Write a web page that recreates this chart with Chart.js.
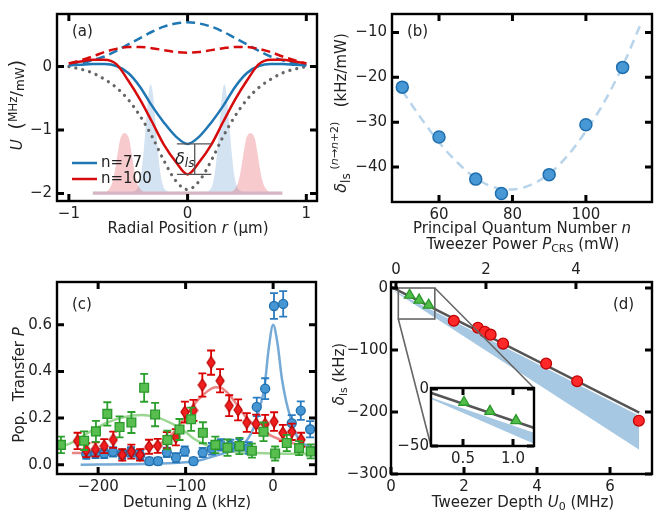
<!DOCTYPE html>
<html>
<head>
<meta charset="utf-8">
<script src="https://cdn.jsdelivr.net/npm/chart.js@4.4.1/dist/chart.umd.min.js"></script>
<style>
  html, body { margin: 0; padding: 0; background: #fff; }
  #wrap { position: relative; width: 660px; height: 512px; }
  #wrap canvas { position: absolute; left: 0; top: 0; }
</style>
</head>
<body>
<div id="wrap">
  <canvas id="pa" width="660" height="512"></canvas>
  <canvas id="pb" width="660" height="512"></canvas>
  <canvas id="pc" width="660" height="512"></canvas>
  <canvas id="pd" width="660" height="512"></canvas>
  <canvas id="pe" width="660" height="512"></canvas>
</div>
<script>
// ---- (a) trap potentials
const radius = [-1, -0.9, -0.8, -0.7, -0.6, -0.5, -0.4, -0.3, -0.2, -0.1, 0, 0.1, 0.2, 0.3, 0.4, 0.5, 0.6, 0.7, 0.8, 0.9, 1]
const trap77 = [0.02, 0.03, 0.04, 0.04, 0.01, -0.1, -0.32, -0.62, -0.88, -1.1, -1.22, -1.1, -0.88, -0.62, -0.32, -0.1, 0.01, 0.04, 0.04, 0.03, 0.02]
const trap100 = [0.05, 0.08, 0.11, 0.11, 0.04, -0.22, -0.52, -0.87, -1.23, -1.5, -1.7, -1.5, -1.23, -0.87, -0.52, -0.22, 0.04, 0.11, 0.11, 0.08, 0.05]
const upper77 = [0.02, 0.05, 0.1, 0.16, 0.25, 0.35, 0.45, 0.55, 0.63, 0.68, 0.7, 0.68, 0.63, 0.55, 0.45, 0.35, 0.25, 0.16, 0.1, 0.05, 0.02]
const upper100 = [0.05, 0.1, 0.16, 0.23, 0.28, 0.31, 0.31, 0.29, 0.26, 0.23, 0.22, 0.23, 0.26, 0.29, 0.31, 0.31, 0.28, 0.23, 0.16, 0.1, 0.05]
const groundTrap = [0, -0.04, -0.1, -0.2, -0.33, -0.52, -0.78, -1.1, -1.48, -1.8, -1.94, -1.8, -1.48, -1.1, -0.78, -0.52, -0.33, -0.2, -0.1, -0.04, 0]
const waveR77 = [-0.8, -0.46, -0.43, -0.41, -0.39, -0.37, -0.35, -0.33, -0.31, -0.29, -0.27, -0.25, -0.23, -0.21, -0.19, -0.16,
  0.16, 0.19, 0.21, 0.23, 0.25, 0.27, 0.29, 0.31, 0.33, 0.35, 0.37, 0.39, 0.41, 0.43, 0.46, 0.8]
const waveU77 = [-1.97, -1.97, -1.94, -1.86, -1.67, -1.33, -0.88, -0.46, -0.28, -0.46, -0.88, -1.33, -1.67, -1.86, -1.94, -1.97,
  -1.97, -1.94, -1.86, -1.67, -1.33, -0.88, -0.46, -0.28, -0.46, -0.88, -1.33, -1.67, -1.86, -1.94, -1.97, -1.97]
const waveR100 = [-0.8, -0.69, -0.67, -0.65, -0.63, -0.61, -0.59, -0.57, -0.55, -0.53, -0.51, -0.49, -0.47, -0.45, -0.43, -0.41, -0.39, -0.37,
  0.37, 0.39, 0.41, 0.43, 0.45, 0.47, 0.49, 0.51, 0.53, 0.55, 0.57, 0.59, 0.61, 0.63, 0.65, 0.67, 0.69, 0.8]
const waveU100 = [-1.97, -1.97, -1.95, -1.9, -1.8, -1.62, -1.38, -1.16, -1.07, -1.05, -1.07, -1.16, -1.38, -1.62, -1.8, -1.9, -1.95, -1.97,
  -1.97, -1.95, -1.9, -1.8, -1.62, -1.38, -1.16, -1.07, -1.05, -1.07, -1.16, -1.38, -1.62, -1.8, -1.9, -1.95, -1.97, -1.97]
const seriesNames = ['n=77', 'n=100']
const aTicksX = [-1, 0, 1]
const aTicksY = [0, -1, -2]

// ---- (b) shift per power vs n
const nLevels = [50, 60, 70, 77, 90, 100, 110]
const shiftPerPower = [-22.2, -33.3, -42.7, -45.9, -41.7, -30.6, -17.8]
const nFit = [50, 55, 60, 65, 70, 75, 80, 85, 90, 95, 100, 105, 110, 115]
const shiftFit = [-23, -29, -34.5, -39, -42.5, -44.5, -45, -44, -41.5, -37.5, -32, -25.5, -17.5, -8]
const bTicksX = [60, 80, 100]
const bTicksY = [-10, -20, -30, -40]

// ---- (c) spectra
const detBlue = [-213.5, -203, -193, -183, -172.5, -162.5, -152, -141.5, -131.5, -121.5, -111, -101, -91, -80.5, -70, -59.5, -49, -38.5, -28, -18.7, -9.1, 1, 11.5, 21.3, 31.6, 42.3]
const popBlue = [0.045, 0.048, 0.048, 0.055, 0.045, 0.055, 0.04, 0.015, 0.015, 0.053, 0.03, 0.058, 0.015, 0.052, 0.068, 0.085, 0.082, 0.085, 0.072, 0.248, 0.326, 0.681, 0.69, 0.178, 0.232, 0.152]
const errBlue = [0.02, 0.02, 0.02, 0.02, 0.02, 0.02, 0.02, 0.015, 0.015, 0.02, 0.02, 0.02, 0.015, 0.02, 0.025, 0.025, 0.025, 0.025, 0.025, 0.04, 0.045, 0.055, 0.055, 0.035, 0.04, 0.035]
const detRed = [-223.5, -213.5, -203, -193, -182.7, -172.4, -162, -152, -141.8, -131.9, -121.5, -111.2, -100.8, -91, -80.9, -70.9, -60.6, -50.2, -40, -30.1, -19.4, -9.1, 1.1, 11.1, 21.3, 32]
const popRed = [0.102, 0.062, 0.066, 0.08, 0.107, 0.042, 0.056, 0.042, 0.077, 0.081, 0.105, 0.118, 0.226, 0.233, 0.342, 0.438, 0.36, 0.253, 0.235, 0.181, 0.175, 0.174, 0.185, 0.136, 0.141, 0.107]
const errRed = [0.035, 0.03, 0.03, 0.03, 0.035, 0.025, 0.03, 0.025, 0.03, 0.03, 0.035, 0.035, 0.045, 0.045, 0.05, 0.052, 0.05, 0.045, 0.045, 0.04, 0.04, 0.04, 0.04, 0.035, 0.035, 0.03]
const detGreen = [-242.5, -216, -202.5, -189.5, -175.5, -162, -147.4, -134.9, -120.8, -107, -93.7, -80.3, -66, -52.2, -38.5, -24.3, -11, 2.3, 15.6, 29.7, 43]
const popGreen = [0.085, 0.103, 0.143, 0.218, 0.162, 0.181, 0.33, 0.215, 0.106, 0.151, 0.195, 0.137, 0.085, 0.073, 0.08, 0.06, 0.141, 0.048, 0.093, 0.071, 0.057]
const errGreen = [0.035, 0.04, 0.045, 0.05, 0.045, 0.045, 0.06, 0.05, 0.04, 0.045, 0.05, 0.045, 0.035, 0.035, 0.035, 0.03, 0.04, 0.03, 0.035, 0.03, 0.03]
const fitDetBlue = [-220, -160, -120, -100, -90, -80, -70, -60, -50, -40, -30, -20, -15, -10, -5, 0, 5, 10, 15, 20, 25, 30, 40, 50]
const fitPopBlue = [0, 0.002, 0.006, 0.01, 0.014, 0.022, 0.034, 0.045, 0.057, 0.075, 0.105, 0.18, 0.25, 0.33, 0.5, 0.6, 0.52, 0.37, 0.27, 0.2, 0.14, 0.105, 0.08, 0.07]
const fitDetRed = [-230, -200, -180, -160, -140, -125, -110, -100, -90, -80, -70, -65, -60, -50, -40, -30, -20, -10, 0, 10, 20, 30, 40, 50]
const fitPopRed = [0.05, 0.052, 0.055, 0.06, 0.075, 0.1, 0.155, 0.21, 0.26, 0.3, 0.328, 0.332, 0.33, 0.3, 0.25, 0.2, 0.165, 0.14, 0.12, 0.105, 0.095, 0.085, 0.078, 0.075]
const fitDetGreen = [-250, -230, -210, -190, -170, -150, -130, -110, -100, -90, -80, -70, -60, -50, -30, 0, 50]
const fitPopGreen = [0.068, 0.095, 0.14, 0.18, 0.205, 0.213, 0.2, 0.165, 0.14, 0.11, 0.09, 0.075, 0.065, 0.058, 0.052, 0.048, 0.046]
const cTicksX = [-200, -100, 0]
const cTicksY = [0, 0.2, 0.4, 0.6]

// ---- (d) light shift vs depth
const depthGreen = [0.51, 0.77, 1.03]
const shiftGreen = [-11.6, -19.6, -27.7]
const depthRed = [1.72, 2.38, 2.57, 2.73, 3.07, 4.25, 5.1, 6.79]
const shiftRed = [-52.8, -64, -70.5, -75.2, -89.7, -121.9, -150.3, -214]
const fitDepth = [0, 6.8]
const fitShift = [2, -201]
const bandDepth = [0, 6.8]
const bandUpper = [-2, -206]
const bandLower = [-2, -261]
const dTicksX = [0, 2, 4, 6]
const dTicksY = [0, -100, -200, -300]
const dTicksTop = [0, 2, 4]
const insetTicksX = [0.5, 1.0]
const insetTicksY = [0, -50]

// ---- look
const FONT = '"DejaVu Sans", sans-serif'
const INK = '#222'
const BLUE = '#1f77b4', RED = 'rgb(214,12,12)'

// plot areas [left, top, right, bottom]
const AREA_A = [57, 9, 317, 201]
const AREA_B = [392, 9, 652, 202]
const AREA_C = [57, 282, 316, 474]
const AREA_D = [391, 282, 652, 474]
const AREA_E = [431, 388, 534, 446]
const INSET_BOX = { x0: 0.2, x1: 1.2, y0: -50, y1: 0 }
const Y_W = 50, X_H = 26

function pts(xs, ys) { return xs.map((x, i) => ({ x, y: ys[i] })) }

function richText(ctx, runs, x, y, rot, align) {
  ctx.save()
  ctx.translate(x, y)
  if (rot) ctx.rotate(-Math.PI / 2)
  ctx.fillStyle = INK
  ctx.textBaseline = 'middle'
  ctx.textAlign = 'left'
  const font = r => (r.i ? 'italic ' : '') + (r.s || 15) + 'px ' + FONT
  let cur = 0
  const at = runs.map(r => { ctx.font = font(r); const p = cur; cur += ctx.measureText(r.t).width; return p })
  const off = align === 'left' ? 0 : -cur / 2
  runs.forEach((r, k) => { ctx.font = font(r); ctx.fillText(r.t, at[k] + off, r.dy || 0) })
  ctx.restore()
}

const minus = v => String(v).replace('-', '\u2212')
const oneDec = v => v.toFixed(1).replace('-', '\u2212')

function axis(pos, min, max, vals, fmt, pad, size) {
  const horiz = pos === 'top' || pos === 'bottom'
  return {
    type: 'linear', position: pos, min, max,
    grid: { display: false, drawTicks: false },
    border: { display: false },
    ticks: { padding: pad, color: INK, font: { size: 15, family: FONT }, maxRotation: 0, autoSkip: false, callback: fmt },
    afterBuildTicks: s => { s.ticks = vals.map(v => ({ value: v })) },
    afterFit: s => { if (horiz) s.height = size; else s.width = size }
  }
}

function line(xs, ys, color, width, dash, extra) {
  return Object.assign({
    data: pts(xs, ys), showLine: true, borderColor: color, borderWidth: width, borderDash: dash || [],
    pointRadius: 0, fill: false, cubicInterpolationMode: 'monotone', clip: 0
  }, extra || {})
}

function marks(xs, ys, style, r, fill, edge, extra) {
  return Object.assign({
    data: pts(xs, ys), showLine: false, pointStyle: style, pointRadius: r,
    backgroundColor: fill, borderColor: edge, borderWidth: 1.3, clip: 0
  }, extra || {})
}

function thinDiamond(w, h, fill, edge) {
  const c = document.createElement('canvas')
  c.width = w + 2; c.height = h + 2
  const g = c.getContext('2d')
  g.beginPath()
  g.moveTo(c.width / 2, 1); g.lineTo(c.width - 1, c.height / 2)
  g.lineTo(c.width / 2, c.height - 1); g.lineTo(1, c.height / 2)
  g.closePath()
  g.fillStyle = fill; g.fill()
  g.strokeStyle = edge; g.lineWidth = 1.2; g.stroke()
  return c
}

// frame + inward ticks on all four sides
const frameTicks = {
  id: 'frameTicks',
  beforeDraw(chart, args, o) {
    if (!o.white) return
    const { ctx, chartArea: a } = chart
    ctx.save(); ctx.fillStyle = '#fff'
    ctx.fillRect(a.left, a.top, a.right - a.left, a.bottom - a.top)
    ctx.restore()
  },
  afterDraw(chart, args, o) {
    const { ctx, chartArea: a, scales } = chart
    const L = 7
    ctx.save()
    ctx.strokeStyle = '#000'
    ctx.lineWidth = 3
    ctx.beginPath()
    scales[o.bottom].ticks.forEach(t => { const p = scales[o.bottom].getPixelForValue(t.value); ctx.moveTo(p, a.bottom); ctx.lineTo(p, a.bottom - L) })
    scales[o.top].ticks.forEach(t => { const p = scales[o.top].getPixelForValue(t.value); ctx.moveTo(p, a.top); ctx.lineTo(p, a.top + L) })
    scales[o.left].ticks.forEach(t => {
      const p = scales[o.left].getPixelForValue(t.value)
      ctx.moveTo(a.left, p); ctx.lineTo(a.left + L, p)
      ctx.moveTo(a.right, p); ctx.lineTo(a.right - L, p)
    })
    ctx.stroke()
    ctx.lineWidth = 2.4
    ctx.strokeRect(a.left, a.top, a.right - a.left, a.bottom - a.top)
    ctx.restore()
  }
}

// axis titles and panel letters
const notes = {
  id: 'notes',
  afterDraw(chart, args, o) {
    (o.items || []).forEach(n => richText(chart.ctx, n.runs, n.x, n.y, n.rot, n.align))
  }
}

// error bars, drawn just under each marker set
const errorBars = {
  id: 'errorBars',
  beforeDatasetDraw(chart, args) {
    const ds = chart.data.datasets[args.index]
    if (!ds.errors) return
    const { ctx, chartArea: a, scales: { x, y } } = chart
    ctx.save()
    ctx.beginPath(); ctx.rect(a.left, a.top, a.right - a.left, a.bottom - a.top); ctx.clip()
    ctx.strokeStyle = ds.errColor
    ctx.lineWidth = 1.8
    ds.data.forEach((p, i) => {
      const px = x.getPixelForValue(p.x)
      const lo = y.getPixelForValue(p.y - ds.errors[i]), hi = y.getPixelForValue(p.y + ds.errors[i])
      ctx.beginPath()
      ctx.moveTo(px, lo); ctx.lineTo(px, hi)
      ctx.moveTo(px - 4, lo); ctx.lineTo(px + 4, lo)
      ctx.moveTo(px - 4, hi); ctx.lineTo(px + 4, hi)
      ctx.stroke()
    })
    ctx.restore()
  }
}

// sizes: room kept for the tick labels around the plot area
function panel(id, area, datasets, scales, opts, plugins, sizes) {
  const sz = Object.assign({ left: Y_W, bottom: X_H, top: 0 }, sizes || {})
  return new Chart(document.getElementById(id), {
    type: 'scatter',
    data: { datasets },
    options: {
      responsive: false, animation: false, events: [], devicePixelRatio: 1,
      layout: { padding: { left: area[0] - sz.left, top: area[1] - sz.top, right: 660 - area[2], bottom: 512 - area[3] - sz.bottom } },
      scales,
      plugins: Object.assign({ legend: { display: false }, tooltip: { enabled: false } }, opts)
    },
    plugins: [frameTicks, notes].concat(plugins || [])
  })
}

// ---------------- (a)
const keyA = {
  id: 'keyA',
  afterDatasetsDraw(chart) {
    const { ctx, chartArea: a, scales: { x, y } } = chart
    // legend
    ;[[seriesNames[0], BLUE], [seriesNames[1], RED]].forEach(([label, color], k) => {
      const yy = a.bottom - 38 + k * 16
      ctx.save(); ctx.strokeStyle = color; ctx.lineWidth = 2.5
      ctx.beginPath(); ctx.moveTo(a.left + 15, yy); ctx.lineTo(a.left + 40, yy); ctx.stroke(); ctx.restore()
      richText(ctx, [{ t: label }], a.left + 44, yy, false, 'left')
    })
    // delta_ls bracket between the two trap minima
    const yb = y.getPixelForValue(Math.min(...trap77)), yr = y.getPixelForValue(Math.min(...trap100))
    const x1 = x.getPixelForValue(-0.09), x2 = x.getPixelForValue(0.2), xm = x.getPixelForValue(0.06)
    ctx.save(); ctx.strokeStyle = '#555'; ctx.lineWidth = 1.3
    ctx.beginPath()
    ctx.moveTo(x1, yb); ctx.lineTo(x2, yb)
    ctx.moveTo(x1, yr); ctx.lineTo(x2, yr)
    ctx.moveTo(xm, yb); ctx.lineTo(xm, yr)
    ctx.stroke(); ctx.restore()
    richText(ctx, [{ t: '\u03b4', i: 1, s: 16 }, { t: 'ls', i: 1, s: 12, dy: 4 }], xm - 10, (yb + yr) / 2 + 1, false)
  }
}

panel('pa', AREA_A, [
  line(radius, trap100, RED, 2.5),
  line(radius, trap77, BLUE, 2.5),
  line(radius, upper100, RED, 2.5, [9, 5]),
  line(radius, upper77, BLUE, 2.5, [9, 5]),
  line(radius, groundTrap, '#666', 3.2, [0.1, 7], { borderCapStyle: 'round' }),
  line(waveR100, waveU100, 'rgba(0,0,0,0)', 0, null, { fill: { value: -2.02 }, backgroundColor: 'rgba(225,60,70,0.27)' }),
  line(waveR77, waveU77, 'rgba(0,0,0,0)', 0, null, { fill: { value: -2.02 }, backgroundColor: 'rgba(70,140,200,0.24)' })
], {
  x: axis('bottom', -1.1, 1.09, aTicksX, minus, 4, X_H),
  y: axis('left', -2.12, 0.83, aTicksY, minus, 5, Y_W)
}, {
  frameTicks: { bottom: 'x', top: 'x', left: 'y' },
  notes: { items: [
    { runs: [{ t: '(a)' }], x: 72, y: 32, align: 'left' },
    { runs: [{ t: 'Radial Position ' }, { t: 'r', i: 1 }, { t: ' (\u03bcm)' }], x: 188, y: 229 },
    { runs: [{ t: 'U', i: 1 }, { t: '  ' }, { t: '(', s: 20 }, { t: 'MHz', s: 12, dy: -4 }, { t: '/', s: 16 }, { t: 'mW', s: 12, dy: 3 }, { t: ')', s: 20 }], x: 18, y: 105, rot: true }
  ] }
}, [keyA])

// ---------------- (b)
panel('pb', AREA_B, [
  marks(nLevels, shiftPerPower, 'circle', 6, 'rgb(72,152,214)', '#1f6fae', { borderWidth: 1.5 }),
  line(nFit, shiftFit, 'rgba(160,198,228,0.75)', 2.5, [9, 6])
], {
  x: axis('bottom', 47.2, 118, bTicksX, minus, 4, X_H),
  y: axis('left', -47.8, -5.9, bTicksY, minus, 5, Y_W)
}, {
  frameTicks: { bottom: 'x', top: 'x', left: 'y' },
  notes: { items: [
    { runs: [{ t: '(b)' }], x: 407, y: 32, align: 'left' },
    { runs: [{ t: 'Principal Quantum Number ' }, { t: 'n', i: 1 }], x: 522, y: 229 },
    { runs: [{ t: '\u03b4', i: 1, s: 16 }, { t: 'ls ', s: 12, dy: 5 }, { t: '(', s: 11, dy: -7 }, { t: 'n', s: 11, i: 1, dy: -7 }, { t: '\u2192', s: 11, dy: -7 },
      { t: 'n', s: 11, i: 1, dy: -7 }, { t: '+2)', s: 11, dy: -7 }, { t: '   (kHz/mW)' }], x: 342, y: 113, rot: true }
  ] }
})

// ---------------- (c)
panel('pc', AREA_C, [
  marks(detGreen, popGreen, 'rect', 6.2, 'rgb(88,190,80)', '#2c9a2c', { errors: errGreen, errColor: '#2ca02c' }),
  marks(detRed, popRed, thinDiamond(8, 12, 'rgb(240,30,30)', '#b80000'), 6, 'rgb(240,30,30)', '#b80000', { errors: errRed, errColor: '#d80000' }),
  marks(detBlue, popBlue, 'circle', 4.5, 'rgb(70,150,212)', '#1f6fae', { errors: errBlue, errColor: '#2a7bbf' }),
  line(fitDetBlue, fitPopBlue, 'rgba(110,165,212,0.95)', 2.5),
  line(fitDetRed, fitPopRed, 'rgba(232,120,120,0.9)', 2.5),
  line(fitDetGreen, fitPopGreen, 'rgba(150,212,140,0.95)', 2.5)
], {
  x: axis('bottom', -247, 49, cTicksX, minus, 4, X_H),
  y: axis('left', -0.04, 0.784, cTicksY, oneDec, 5, Y_W)
}, {
  frameTicks: { bottom: 'x', top: 'x', left: 'y' },
  notes: { items: [
    { runs: [{ t: '(c)' }], x: 72, y: 305, align: 'left' },
    { runs: [{ t: 'Detuning \u0394 (kHz)' }], x: 187, y: 503 },
    { runs: [{ t: 'Pop.  Transfer ' }, { t: 'P', i: 1 }], x: 20, y: 385, rot: true }
  ] }
}, [errorBars])

// ---------------- (d) inset first, so the main panel can point at it
const GREEN_TRI = ['rgb(80,190,72)', '#2c962c']
const RED_DOT = ['rgb(255,40,40)', '#c00000']
const bandSets = () => [
  line(bandDepth, bandUpper, 'rgba(0,0,0,0)', 0, null, { fill: '+1', backgroundColor: 'rgb(166,200,226)', cubicInterpolationMode: 'default', tension: 0 }),
  line(bandDepth, bandLower, 'rgba(0,0,0,0)', 0, null, { cubicInterpolationMode: 'default', tension: 0 })
]

const inset = panel('pe', AREA_E, [
  marks(depthGreen, shiftGreen, 'triangle', 6, GREEN_TRI[0], GREEN_TRI[1]),
  line(fitDepth, fitShift, '#555', 2.5, null, { cubicInterpolationMode: 'default', tension: 0 })
].concat(bandSets()), {
  x: axis('bottom', 0.18, 1.21, insetTicksX, oneDec, 4, 22),
  y: axis('left', -50, 0.9, insetTicksY, minus, 2, 40)
}, {
  frameTicks: { bottom: 'x', top: 'x', left: 'y', white: true }
}, [], { left: 40, bottom: 22 })

const zoomBox = {
  id: 'zoomBox',
  afterDatasetsDraw(chart) {
    const { ctx, scales: { x, y } } = chart
    const ia = inset.chartArea
    const l = x.getPixelForValue(INSET_BOX.x0), r = x.getPixelForValue(INSET_BOX.x1)
    const t = y.getPixelForValue(INSET_BOX.y1), b = y.getPixelForValue(INSET_BOX.y0)
    ctx.save(); ctx.strokeStyle = '#666'; ctx.lineWidth = 1.6
    ctx.strokeRect(l, t, r - l, b - t)
    ctx.beginPath()
    ctx.moveTo(r, t); ctx.lineTo(ia.right, ia.top)
    ctx.moveTo(l, b); ctx.lineTo(ia.left, ia.bottom)
    ctx.stroke(); ctx.restore()
  }
}

panel('pd', AREA_D, [
  marks(depthRed, shiftRed, 'circle', 5.4, RED_DOT[0], RED_DOT[1]),
  marks(depthGreen, shiftGreen, 'triangle', 6, GREEN_TRI[0], GREEN_TRI[1]),
  line(fitDepth, fitShift, '#555', 2.5, null, { cubicInterpolationMode: 'default', tension: 0 })
].concat(bandSets()), {
  x: axis('bottom', 0, 7.15, dTicksX, minus, 4, X_H),
  x2: axis('top', -0.11, 5.69, dTicksTop, minus, 3, X_H),
  y: axis('left', -300, 9.7, dTicksY, minus, 3, Y_W)
}, {
  frameTicks: { bottom: 'x', top: 'x2', left: 'y' },
  notes: { items: [
    { runs: [{ t: '(d)' }], x: 613, y: 305, align: 'left' },
    { runs: [{ t: 'Tweezer Depth ' }, { t: 'U', i: 1 }, { t: '0', s: 11, dy: 4 }, { t: ' (MHz)' }], x: 523, y: 503 },
    { runs: [{ t: 'Tweezer Power ' }, { t: 'P', i: 1 }, { t: 'CRS', s: 11, dy: 4 }, { t: ' (mW)' }], x: 523, y: 245 },
    { runs: [{ t: '\u03b4', i: 1 }, { t: 'ls', s: 11, dy: 4 }, { t: ' (kHz)' }], x: 340, y: 374, rot: true }
  ] }
}, [zoomBox], { top: X_H })
</script>
</body>
</html>
